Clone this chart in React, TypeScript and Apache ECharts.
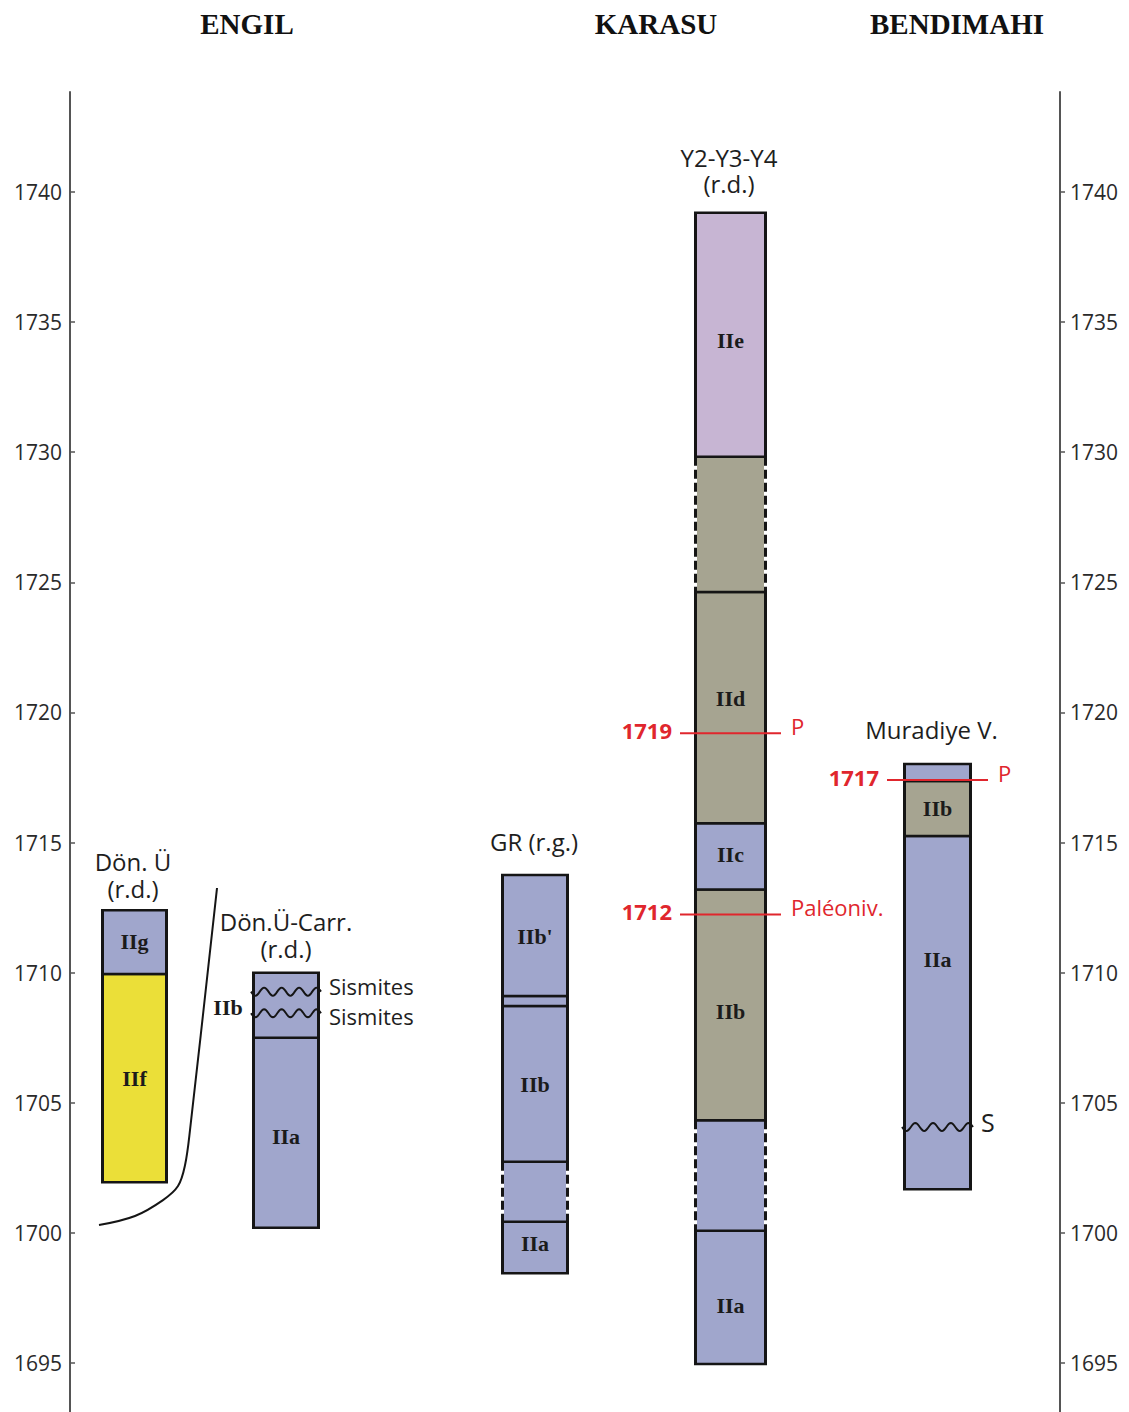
import { useEffect, useRef } from "react";
import * as echarts from "echarts";

// ---------------- data ----------------
const DEPTH_MIN = 1693.117;
const DEPTH_MAX = 1743.843;
const DEPTH_TICKS = [1695, 1700, 1705, 1710, 1715, 1720, 1725, 1730, 1735, 1740];

const REGION_TITLES = ["ENGIL", "KARASU", "BENDIMAHI"];
const COLUMN_TITLES = [["Dön. Ü", "(r.d.)"], ["Dön.Ü-Carr.", "(r.d.)"], ["GR (r.g.)"], ["Y2-Y3-Y4", "(r.d.)"], ["Muradiye V."]];

type Seg = {
  bottom: number;
  top: number;
  facies: string;
  label?: string;
  labelAt?: number;
  dashed?: boolean;
  outside?: boolean;
};

const DON_U_SEGMENTS: Seg[] = [
  { bottom: 1701.95, top: 1709.95, facies: "yellow", label: "IIf", labelAt: 1705.95 },
  { bottom: 1709.95, top: 1712.4, facies: "blue", label: "IIg", labelAt: 1711.2 },
];
const CARR_SEGMENTS: Seg[] = [
  { bottom: 1700.2, top: 1707.5, facies: "blue", label: "IIa", labelAt: 1703.7 },
  { bottom: 1707.5, top: 1710.0, facies: "blue", label: "IIb", labelAt: 1708.68, outside: true },
];
const GR_SEGMENTS: Seg[] = [
  { bottom: 1698.45, top: 1700.43, facies: "blue", label: "IIa", labelAt: 1699.6 },
  { bottom: 1700.43, top: 1702.73, facies: "blue", dashed: true },
  { bottom: 1702.73, top: 1708.72, facies: "blue", label: "IIb", labelAt: 1705.7 },
  { bottom: 1708.72, top: 1709.1, facies: "blue", dashed: true },
  { bottom: 1709.1, top: 1713.75, facies: "blue", label: "IIb'", labelAt: 1711.4 },
];
const KARASU_SEGMENTS: Seg[] = [
  { bottom: 1694.96, top: 1700.08, facies: "blue", label: "IIa", labelAt: 1697.2 },
  { bottom: 1700.08, top: 1704.33, facies: "blue", dashed: true },
  { bottom: 1704.33, top: 1713.2, facies: "olive", label: "IIb", labelAt: 1708.5 },
  { bottom: 1713.2, top: 1715.74, facies: "blue", label: "IIc", labelAt: 1714.55 },
  { bottom: 1715.74, top: 1724.63, facies: "olive", label: "IId", labelAt: 1720.55 },
  { bottom: 1724.63, top: 1729.83, facies: "olive", dashed: true },
  { bottom: 1729.83, top: 1739.2, facies: "purple", label: "IIe", labelAt: 1734.3 },
];
const MURADIYE_SEGMENTS: Seg[] = [
  { bottom: 1701.68, top: 1715.25, facies: "blue", label: "IIa", labelAt: 1710.5 },
  { bottom: 1715.25, top: 1717.37, facies: "olive", label: "IIb", labelAt: 1716.3 },
  { bottom: 1717.37, top: 1718.02, facies: "blue" },
];
const COLUMN_SEGMENTS = [DON_U_SEGMENTS, CARR_SEGMENTS, GR_SEGMENTS, KARASU_SEGMENTS, MURADIYE_SEGMENTS];

const SISMITE_COLUMN = [1, 1, 4];
const SISMITE_DEPTH = [1709.27, 1708.44, 1704.07];
const SISMITE_LABEL = ["Sismites", "Sismites", "S"];
const SISMITE_LABEL_DEPTH = [1709.5, 1708.32, 1704.25];

const MARKER_COLUMN = [3, 3, 4];
const MARKER_DEPTH = [1719.2, 1712.24, 1717.4];
const MARKER_YEAR = ["1719", "1712", "1717"];
const MARKER_NOTE = ["P", "Paléoniv.", "P"];

const CURVE_X = [99, 135, 163, 178, 185, 190, 217];
const CURVE_DEPTH = [1700.3, 1700.65, 1701.26, 1701.8, 1702.6, 1703.95, 1713.25];

// ---------------- layout & style ----------------
const COLUMN_CENTER = [134.5, 286, 535, 730.5, 937.5];
const COLUMN_WIDTH = [67, 68, 68, 73, 69];
const REGION_X = [247, 656, 957];
const TITLE_POS: [number, number[]][] = [
  [133, [861, 888]],
  [286, [921, 948]],
  [534, [841]],
  [729, [157, 183]],
  [931.5, [729]],
];
const FACIES_COLOR: Record<string, string> = {
  blue: "#a0a6cc",
  yellow: "#ebdf38",
  olive: "#a6a491",
  purple: "#c7b5d3",
};
const RED = "#e0262d";
const INK = "#151515";
const SANS = '"Open Sans", "Noto Sans", sans-serif';
const SERIF = '"Liberation Serif", "DejaVu Serif", serif';

const SEG_ROWS = COLUMN_SEGMENTS.flatMap((segs, col) => segs.map((s) => ({ ...s, col })));

function buildOption() {
  const graphic: any[] = [];
  REGION_TITLES.forEach((t, i) => {
    graphic.push({
      type: "text",
      x: REGION_X[i],
      y: 24,
      silent: true,
      style: {
        text: t,
        fontFamily: SERIF,
        fontWeight: "bold",
        fontSize: 29,
        fill: "#111",
        align: "center",
        textAlign: "center",
        verticalAlign: "middle",
        textVerticalAlign: "middle",
      },
    });
  });
  COLUMN_TITLES.forEach((lines, i) => {
    const [x, ys] = TITLE_POS[i];
    lines.forEach((ln, j) => {
      graphic.push({
        type: "text",
        x,
        y: ys[j],
        silent: true,
        style: {
          text: ln,
          fontFamily: SANS,
          fontSize: 24,
          lineHeight: 24,
          fill: "#1e1e1e",
          align: "center",
          textAlign: "center",
          verticalAlign: "middle",
          textVerticalAlign: "middle",
        },
      });
    });
  });

  const yAxisBase = {
    type: "value",
    min: DEPTH_MIN,
    max: DEPTH_MAX,
    splitLine: { show: false },
    axisLine: { show: true, onZero: false, lineStyle: { color: "#555", width: 2 } },
  };
  const fmt = (v: number) => String(Math.round(v));

  return {
    animation: false,
    backgroundColor: "#ffffff",
    grid: { left: 70, right: 69, top: 92, bottom: 0, containLabel: false },
    xAxis: { type: "value", min: 70, max: 1060, show: false },
    yAxis: [
      {
        ...yAxisBase,
        position: "left",
        axisTick: { show: true, inside: true, length: 5, customValues: DEPTH_TICKS, lineStyle: { color: "#555", width: 1.5 } },
        axisLabel: { customValues: DEPTH_TICKS, formatter: fmt, fontFamily: SANS, fontSize: 21, color: "#2a2a2a", margin: 8 },
      },
      {
        ...yAxisBase,
        position: "right",
        axisTick: { show: true, inside: false, length: 5, customValues: DEPTH_TICKS, lineStyle: { color: "#555", width: 1.5 } },
        axisLabel: { customValues: DEPTH_TICKS, formatter: fmt, fontFamily: SANS, fontSize: 21, color: "#2a2a2a", margin: 10 },
      },
    ],
    graphic,
    series: [
      {
        type: "line",
        silent: true,
        data: CURVE_X.map((x, i) => [x, CURVE_DEPTH[i]]),
        smooth: 0.35,
        symbol: "none",
        lineStyle: { color: INK, width: 2 },
        z: 1,
      },
      {
        type: "custom",
        silent: true,
        data: SEG_ROWS.map((s) => [COLUMN_CENTER[s.col], s.bottom, s.top]),
        encode: { x: 0, y: [1, 2] },
        z: 2,
        renderItem: (params: any, api: any) => {
          const s = SEG_ROWS[params.dataIndex];
          const xv = api.value(0);
          const [cx, yTop] = api.coord([xv, s.top]);
          const yBot = api.coord([xv, s.bottom])[1];
          const w = COLUMN_WIDTH[s.col];
          const h = w / 2 - 1.5;
          const sideStyle: any = { stroke: INK, lineWidth: 3 };
          if (s.dashed) sideStyle.lineDash = [9, 4];
          const children: any[] = [
            {
              type: "rect",
              shape: { x: cx - h + 1.5, y: yTop, width: 2 * h - 3, height: yBot - yTop },
              style: { fill: FACIES_COLOR[s.facies] },
            },
            { type: "line", shape: { x1: cx - h - 1.5, y1: yTop, x2: cx + h + 1.5, y2: yTop }, style: { stroke: INK, lineWidth: 2.5 } },
            { type: "line", shape: { x1: cx - h - 1.5, y1: yBot, x2: cx + h + 1.5, y2: yBot }, style: { stroke: INK, lineWidth: 2.5 } },
            { type: "line", shape: { x1: cx - h, y1: yTop, x2: cx - h, y2: yBot }, style: { ...sideStyle } },
            { type: "line", shape: { x1: cx + h, y1: yTop, x2: cx + h, y2: yBot }, style: { ...sideStyle } },
          ];
          if (s.label) {
            children.push({
              type: "text",
              x: s.outside ? cx - w / 2 - 24 : cx,
              y: api.coord([xv, s.labelAt])[1],
              style: {
                text: s.label,
                fontFamily: SERIF,
                fontWeight: "bold",
                fontSize: 22,
                fill: "#1b1b1b",
                align: "center",
                textAlign: "center",
                verticalAlign: "middle",
                textVerticalAlign: "middle",
              },
            });
          }
          return { type: "group", children };
        },
      },
      {
        type: "custom",
        silent: true,
        data: SISMITE_COLUMN.map((c, i) => [COLUMN_CENTER[c], SISMITE_DEPTH[i]]),
        encode: { x: 0, y: 1 },
        z: 3,
        renderItem: (params: any, api: any) => {
          const i = params.dataIndex;
          const col = SISMITE_COLUMN[i];
          const [cx, y] = api.coord([api.value(0), api.value(1)]);
          const w = COLUMN_WIDTH[col];
          const x0 = cx - w / 2 - 1;
          const x1 = cx + w / 2 + 1;
          const pts: number[][] = [];
          const N = 80;
          for (let k = 0; k <= N; k++) {
            const t = k / N;
            pts.push([x0 + (x1 - x0) * t, y + 4 * Math.sin(t * Math.PI * 2 * 4)]);
          }
          const ly = api.coord([api.value(0), SISMITE_LABEL_DEPTH[i]])[1];
          return {
            type: "group",
            children: [
              { type: "polyline", shape: { points: pts }, style: { stroke: INK, lineWidth: 2, fill: "none" } },
              {
                type: "text",
                x: x1 + 8,
                y: ly,
                style: {
                  text: SISMITE_LABEL[i],
                  fontFamily: SANS,
                  fontSize: i === 2 ? 25 : 22,
                  fill: "#1e1e1e",
                  align: "left",
                  textAlign: "left",
                  verticalAlign: "middle",
                  textVerticalAlign: "middle",
                },
              },
            ],
          };
        },
      },
      {
        type: "custom",
        silent: true,
        data: MARKER_COLUMN.map((c, i) => [COLUMN_CENTER[c], MARKER_DEPTH[i]]),
        encode: { x: 0, y: 1 },
        z: 4,
        renderItem: (params: any, api: any) => {
          const i = params.dataIndex;
          const [cx, y] = api.coord([api.value(0), api.value(1)]);
          return {
            type: "group",
            children: [
              { type: "line", shape: { x1: cx - 50.5, y1: y, x2: cx + 50.5, y2: y }, style: { stroke: RED, lineWidth: 2 } },
              {
                type: "text",
                x: cx - 58.5,
                y: y - 3,
                style: {
                  text: MARKER_YEAR[i],
                  fontFamily: SANS,
                  fontWeight: "bold",
                  fontSize: 22,
                  fill: RED,
                  align: "right",
                  textAlign: "right",
                  verticalAlign: "middle",
                  textVerticalAlign: "middle",
                },
              },
              {
                type: "text",
                x: cx + 60.5,
                y: y - 7,
                style: {
                  text: MARKER_NOTE[i],
                  fontFamily: SANS,
                  fontSize: 22,
                  fill: RED,
                  align: "left",
                  textAlign: "left",
                  verticalAlign: "middle",
                  textVerticalAlign: "middle",
                },
              },
            ],
          };
        },
      },
    ],
  };
}

export default function App() {
  const ref = useRef<HTMLDivElement>(null);
  useEffect(() => {
    const chart = echarts.init(ref.current!, null, { renderer: "svg" });
    chart.setOption(buildOption() as any);
    return () => chart.dispose();
  }, []);
  return (
    <div
      ref={ref}
      style={{ position: "absolute", left: 0, top: 0, width: 1129, height: 1412, background: "#ffffff" }}
    />
  );
}
